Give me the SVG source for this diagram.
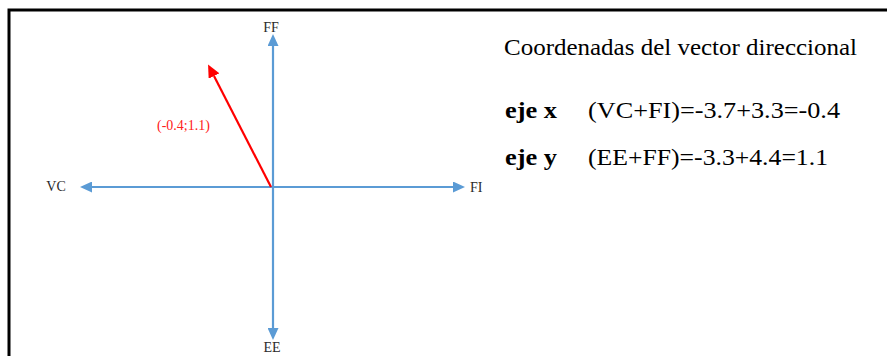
<svg xmlns="http://www.w3.org/2000/svg" width="887" height="356" viewBox="0 0 887 356">
<style>
.ax{stroke:#5b9bd5;stroke-width:2.2;fill:none}
.vec{stroke:#ff0000;stroke-width:2.2;fill:none}
.lbl{font-family:"Liberation Serif","Times New Roman",serif;font-size:14px;fill:#2a2a2a}
.vl{font-family:"Liberation Serif","Times New Roman",serif;font-size:14px;fill:#ff2020}
.t{font-family:"Liberation Serif","Times New Roman",serif;font-size:24px;fill:#000}
.b{font-weight:bold}
</style>
<defs>
<marker id="ab" markerUnits="userSpaceOnUse" markerWidth="12" markerHeight="11" refX="0" refY="5.5" orient="auto" viewBox="0 0 12 11">
<path d="M0,0 L12,5.5 L0,11 z" fill="#5b9bd5"/>
</marker>
<marker id="ar" markerUnits="userSpaceOnUse" markerWidth="13" markerHeight="12" refX="0" refY="6" orient="auto" viewBox="0 0 13 12">
<path d="M0,0 L13,6 L0,12 z" fill="#ff0000"/>
</marker>
</defs>
<rect width="887" height="356" fill="#fff"/>
<g id="frame">
<path d="M9,356 L9,10 L887,10" stroke="#000" stroke-width="3" fill="none"/>
</g>
<g id="connectors">
<line class="ax" x1="273" y1="187" x2="273" y2="46" marker-end="url(#ab)"/>
<line class="ax" x1="273" y1="187" x2="273" y2="328" marker-end="url(#ab)"/>
<line class="ax" x1="273" y1="187" x2="92" y2="187" marker-end="url(#ab)"/>
<line class="ax" x1="273" y1="187" x2="453" y2="187" marker-end="url(#ab)"/>
<line class="vec" x1="271" y1="187" x2="214" y2="76" marker-end="url(#ar)"/>
</g>
<g id="node-FF"><text class="lbl" x="271" y="32" text-anchor="middle">FF</text></g>
<g id="node-EE"><text class="lbl" x="272" y="352" text-anchor="middle">EE</text></g>
<g id="node-VC"><text class="lbl" x="56" y="191" text-anchor="middle">VC</text></g>
<g id="node-FI"><text class="lbl" x="470" y="192">FI</text></g>
<g id="vector-label"><text class="vl" x="157" y="130">(-0.4;1.1)</text></g>
<g id="legend">
<text class="t" x="504" y="55" textLength="353" lengthAdjust="spacingAndGlyphs">Coordenadas del vector direccional</text>
<text class="t b" x="505" y="118" textLength="52" lengthAdjust="spacingAndGlyphs">eje x</text>
<text class="t" x="588" y="118" textLength="252" lengthAdjust="spacingAndGlyphs">(VC+FI)=-3.7+3.3=-0.4</text>
<text class="t b" x="505" y="165" textLength="52" lengthAdjust="spacingAndGlyphs">eje y</text>
<text class="t" x="588" y="165" textLength="240" lengthAdjust="spacingAndGlyphs">(EE+FF)=-3.3+4.4=1.1</text>
</g>
</svg>
